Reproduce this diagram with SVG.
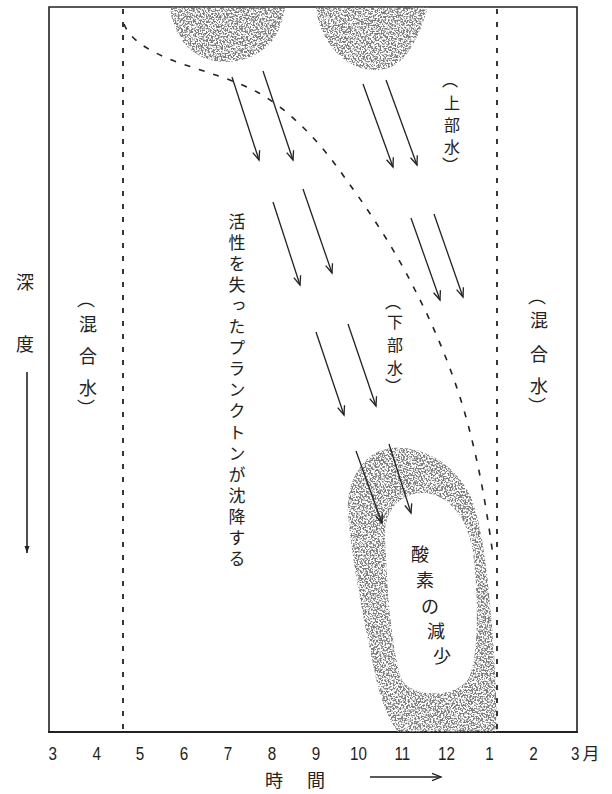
<svg xmlns="http://www.w3.org/2000/svg" width="612" height="794" viewBox="0 0 612 794">
  <style>
    .frame { fill: none; stroke: #222; stroke-width: 1.6; }
    .axis { fill: none; stroke: #222; stroke-width: 2; }
    .vdash { fill: none; stroke: #222; stroke-width: 1.8; stroke-dasharray: 5 8; }
    .cdash { fill: none; stroke: #222; stroke-width: 1.6; stroke-dasharray: 6 9; }
    .arrow { fill: none; stroke: #222; stroke-width: 1.3; marker-end: url(#head); }
    .jp { font-family: "Noto Sans CJK JP", "Noto Sans", sans-serif; fill: #222; text-anchor: middle; dominant-baseline: central; }
    .vt { font-family: "Noto Sans CJK JP", "Noto Sans", sans-serif; fill: #222; writing-mode: vertical-rl; }
    .num { font-family: "Liberation Sans", "DejaVu Sans", sans-serif; fill: #222; text-anchor: middle; font-size: 19px; }
    .stip { filter: url(#stipple); fill: #000; }
  </style>
  <defs>
    <marker id="head" markerUnits="userSpaceOnUse" markerWidth="12" markerHeight="10" viewBox="-10 -5 12 10" refX="0" refY="0" orient="auto">
      <path d="M-9,-3.6 L0,0 L-9,3.6" fill="none" stroke="#222" stroke-width="1.3"/>
    </marker>
    <marker id="headFill" markerUnits="userSpaceOnUse" markerWidth="10" markerHeight="10" viewBox="-8 -4 10 8" refX="0" refY="0" orient="auto">
      <path d="M-7,-2.5 L0,0 L-7,2.5 Z" fill="#222"/>
    </marker>
    <!-- speckled fill: thresholded noise kept inside the shape -->
    <filter id="stipple" x="-5%" y="-5%" width="110%" height="110%">
      <feTurbulence type="fractalNoise" baseFrequency="0.6" numOctaves="2" seed="7" result="noise"/>
      <feColorMatrix in="noise" type="matrix" values="0 0 0 0 0.2  0 0 0 0 0.2  0 0 0 0 0.2  7 0 0 0 -3.1" result="dots"/>
      <feComposite in="dots" in2="SourceGraphic" operator="in"/>
    </filter>
  </defs>

  <rect width="612" height="794" fill="#fff"/>

  <!-- chart frame -->
  <g id="frame">
    <path class="frame" d="M49,732 L49,7 L577,7 L577,732"/>
    <line class="axis" x1="48" y1="732" x2="578" y2="732"/>
  </g>

  <!-- surface blooms and the oxygen-depleted zone -->
  <g id="bloom-1">
    <path class="stip" d="M170,7 C172,30 185,55 215,61 C245,66 268,50 276,35 C282,24 285,12 285,7 Z"/>
  </g>
  <g id="bloom-2">
    <path class="stip" d="M316,7 C318,35 340,68 372,70 C400,72 415,50 428,7 Z"/>
  </g>
  <g id="oxygen-loss">
    <path class="stip" fill-rule="evenodd" d="M348,515 C345,480 365,450 392,448 C425,446 455,465 470,495 C485,530 490,600 494,650 C496,690 497,720 497,732 L398,732 C385,715 378,690 372,660 C362,610 352,560 348,515 Z M385,530 C387,505 405,492 425,493 C450,495 470,520 474,560 C478,600 479,655 469,678 C458,697 420,698 405,684 C394,670 387,600 385,530 Z"/>
    <text class="jp" font-size="18" x="420" y="553">酸</text>
    <text class="jp" font-size="18" x="425" y="579">素</text>
    <text class="jp" font-size="18" x="430" y="605">の</text>
    <text class="jp" font-size="18" x="436" y="630">減</text>
    <text class="jp" font-size="18" x="442" y="655">少</text>
  </g>

  <!-- boundaries: mixing periods and thermocline -->
  <g id="connectors">
    <line class="vdash" x1="123" y1="9" x2="123" y2="731"/>
    <line class="vdash" x1="497" y1="9" x2="497" y2="731"/>
    <path class="cdash" d="M124,24 C130,40 150,52 177,62 C205,72 235,80 257,92 C290,110 320,142 345,178 C370,212 395,250 415,290 C440,338 460,390 472,440 C482,480 488,520 493,555"/>

    <!-- sinking plankton -->
    <line class="arrow" x1="232" y1="77" x2="259" y2="160"/>
    <line class="arrow" x1="263" y1="71" x2="293" y2="160"/>
    <line class="arrow" x1="363" y1="84" x2="393" y2="167"/>
    <line class="arrow" x1="386" y1="80" x2="417" y2="165"/>
    <line class="arrow" x1="273" y1="202" x2="300" y2="285"/>
    <line class="arrow" x1="303" y1="189" x2="332" y2="273"/>
    <line class="arrow" x1="411" y1="218" x2="440" y2="300"/>
    <line class="arrow" x1="434" y1="214" x2="463" y2="297"/>
    <line class="arrow" x1="316" y1="332" x2="344" y2="415"/>
    <line class="arrow" x1="348" y1="324" x2="376" y2="406"/>
    <line class="arrow" x1="356" y1="451" x2="382" y2="523"/>
    <line class="arrow" x1="389" y1="444" x2="411" y2="513"/>

    <!-- axis direction arrows -->
    <line x1="27" y1="372" x2="27" y2="553" stroke="#222" stroke-width="1.6" marker-end="url(#headFill)"/>
    <line class="arrow" x1="370" y1="777" x2="441" y2="777"/>
  </g>

  <!-- water layer labels (brackets use their vertical forms) -->
  <g id="label-mixed-left" font-size="18">
    <text class="vt" x="86" y="290">（</text>
    <text class="jp" x="88" y="323">混</text>
    <text class="jp" x="88" y="355">合</text>
    <text class="jp" x="88" y="387">水</text>
    <text class="vt" x="86" y="399">）</text>
  </g>
  <g id="label-mixed-right" font-size="18">
    <text class="vt" x="537" y="287">（</text>
    <text class="jp" x="539" y="319">混</text>
    <text class="jp" x="539" y="353">合</text>
    <text class="jp" x="539" y="385">水</text>
    <text class="vt" x="537" y="397">）</text>
  </g>
  <g id="label-upper" font-size="16">
    <text class="vt" x="450" y="72">（</text>
    <text class="jp" x="452" y="102">上</text>
    <text class="jp" x="452" y="124">部</text>
    <text class="jp" x="452" y="146">水</text>
    <text class="vt" x="450" y="157">）</text>
  </g>
  <g id="label-lower" font-size="16">
    <text class="vt" x="393" y="294">（</text>
    <text class="jp" x="395" y="321">下</text>
    <text class="jp" x="395" y="344">部</text>
    <text class="jp" x="395" y="367">水</text>
    <text class="vt" x="393" y="378">）</text>
  </g>
  <g id="label-sinking">
    <text class="vt" font-size="17" x="237" y="213" letter-spacing="4.06">活性を失ったプランクトンが沈降する</text>
  </g>

  <!-- axis titles -->
  <g id="label-depth">
    <text class="jp" font-size="18" x="25" y="281">深</text>
    <text class="jp" font-size="18" x="25" y="343">度</text>
  </g>
  <g id="label-time">
    <text class="jp" font-size="18" x="274" y="779">時</text>
    <text class="jp" font-size="18" x="316" y="779">間</text>
  </g>

  <!-- month scale -->
  <g id="months" class="num" transform="scale(0.8 1)">
    <text x="66" y="760">3</text>
    <text x="121" y="760">4</text>
    <text x="175" y="760">5</text>
    <text x="230" y="760">6</text>
    <text x="285" y="760">7</text>
    <text x="340" y="760">8</text>
    <text x="395" y="760">9</text>
    <text x="448" y="760">10</text>
    <text x="503" y="760">11</text>
    <text x="558" y="760">12</text>
    <text x="612" y="760">1</text>
    <text x="667" y="760">2</text>
    <text x="719" y="760">3</text>
  </g>
  <text class="jp" font-size="17" x="591" y="752">月</text>
</svg>
